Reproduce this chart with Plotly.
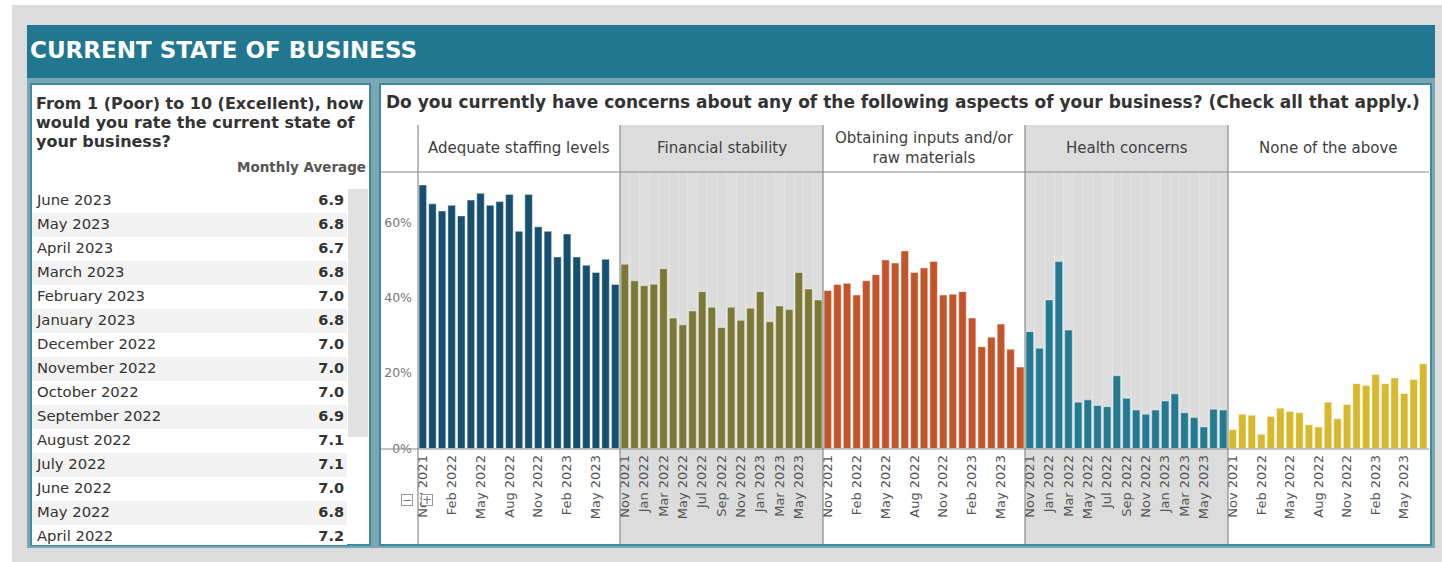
import plotly.graph_objects as go

W, H = 1442, 562

# ---------------- data ----------------
months = ["Nov 2021", "Dec 2021", "Jan 2022", "Feb 2022", "Mar 2022", "Apr 2022",
          "May 2022", "Jun 2022", "Jul 2022", "Aug 2022", "Sep 2022", "Oct 2022",
          "Nov 2022", "Dec 2022", "Jan 2023", "Feb 2023", "Mar 2023", "Apr 2023",
          "May 2023", "Jun 2023", "Jul 2023"]

staffing = [69.9, 64.9, 63.0, 64.5, 61.7, 65.9, 67.7, 64.5, 65.5, 67.4, 57.6,
            67.4, 58.8, 57.6, 50.8, 56.9, 50.8, 48.6, 46.7, 50.2, 43.5]
financial = [48.9, 44.5, 43.2, 43.6, 47.7, 34.6, 32.8, 36.5, 41.6, 37.5, 32.1,
             37.5, 34.0, 37.2, 41.6, 33.6, 37.8, 36.9, 46.7, 42.3, 39.4]
inputs = [41.9, 43.5, 43.8, 40.7, 44.5, 46.1, 50.0, 49.2, 52.4, 46.7, 47.9,
          49.6, 40.7, 40.9, 41.6, 34.6, 27.0, 29.5, 33.0, 26.3, 21.6]
health = [31.0, 26.6, 39.4, 49.6, 31.4, 12.3, 12.9, 11.4, 11.1, 19.3, 13.3,
          10.2, 9.1, 10.2, 12.6, 14.5, 9.5, 8.2, 5.7, 10.4, 10.2]
none_above = [5.0, 9.1, 8.8, 3.8, 8.5, 10.7, 9.8, 9.5, 6.3, 5.7, 12.3,
              7.9, 11.7, 17.2, 16.7, 19.6, 17.2, 18.7, 14.6, 18.3, 22.5]

concern_labels = ["Adequate staffing levels", "Financial stability",
                  "Obtaining inputs and/or<br>raw materials", "Health concerns",
                  "None of the above"]
series = [staffing, financial, inputs, health, none_above]
bar_colors = ["#174f70", "#7b7935", "#c4552a", "#237a91", "#d8b82c"]

ticks_3m = ["Nov 2021", "Feb 2022", "May 2022", "Aug 2022", "Nov 2022", "Feb 2023", "May 2023"]
ticks_2m = ["Nov 2021", "Jan 2022", "Mar 2022", "May 2022", "Jul 2022", "Sep 2022",
            "Nov 2022", "Jan 2023", "Mar 2023", "May 2023"]
panel_ticks = [ticks_3m, ticks_2m, ticks_3m, ticks_2m, ticks_3m]
y_ticks = [0, 20, 40, 60]
y_ticktext = ["0%", "20%", "40%", "60%"]

table_months = ["June 2023", "May 2023", "April 2023", "March 2023", "February 2023",
                "January 2023", "December 2022", "November 2022", "October 2022",
                "September 2022", "August 2022", "July 2022", "June 2022", "May 2022",
                "April 2022"]
table_avg = [6.9, 6.8, 6.7, 6.8, 7.0, 6.8, 7.0, 7.0, 7.0, 6.9, 7.1, 7.1, 7.0, 6.8, 7.2]

question_lines = ["From 1 (Poor) to 10 (Excellent), how",
                  "would you rate the current state of",
                  "your business?"]

# ---------------- helpers ----------------
FONT = "DejaVu Sans"


def X(px):
    return px / W


def Y(py):
    return 1 - py / H


panel_edges = [418, 620, 823, 1025, 1228, 1428]
grey_panels = (1, 3)
plot_top, plot_bottom = 172, 448.5
y_max = (plot_bottom - plot_top) / 3.77

fig = go.Figure()

for i, (vals, col) in enumerate(zip(series, bar_colors)):
    ax = "x" if i == 0 else f"x{i + 1}"
    fig.add_trace(go.Bar(
        x=months, y=vals, xaxis=ax, yaxis="y",
        marker=dict(color=col, line=dict(color="rgba(255,255,255,0.55)", width=0.8)),
        hovertemplate="%{x}: %{y:.1f}%<extra>" + concern_labels[i].replace("<br>", " ") + "</extra>",
        showlegend=False,
    ))

layout_axes = {}
for i in range(5):
    key = "xaxis" if i == 0 else f"xaxis{i + 1}"
    striped = i in grey_panels
    layout_axes[key] = dict(
        domain=[X(panel_edges[i]), X(panel_edges[i + 1])],
        anchor="y", type="category", categoryorder="array", categoryarray=months,
        range=[-0.5, len(months) - 0.5],
        tickmode="array", tickvals=months,
        ticktext=[m if m in panel_ticks[i] else "" for m in months],
        tickson="boundaries" if striped else "labels",
        tickangle=-90, ticks="", showgrid=striped, gridcolor="#e6e6e6", gridwidth=1,
        showline=False, zeroline=False, ticklabelstandoff=3,
        tickfont=dict(family=FONT, size=13, color="#555555"),
        fixedrange=True,
    )

# ---------------- left table (rows on their own axes) ----------------
table_w = 315
row_fill = ["#ffffff" if k % 2 == 0 else "#f2f2f2" for k in range(len(table_months))]
rows_visible = (545 - 189) / 24.0

fig.add_trace(go.Bar(
    y=table_months, x=[table_w] * len(table_months), orientation="h", width=1,
    xaxis="x6", yaxis="y6", marker=dict(color=row_fill, line_width=0),
    hoverinfo="skip", showlegend=False,
))
fig.add_trace(go.Scatter(
    y=table_months, x=[5] * len(table_months), xaxis="x6", yaxis="y6",
    mode="text", text=table_months, textposition="middle right",
    textfont=dict(family=FONT, size=14.8, color="#333333"),
    hoverinfo="skip", showlegend=False, cliponaxis=True,
))
fig.add_trace(go.Scatter(
    y=table_months, x=[table_w - 3] * len(table_months), xaxis="x6", yaxis="y6",
    mode="text", text=[f"<b>{v:.1f}</b>" for v in table_avg], textposition="middle left",
    textfont=dict(family=FONT, size=14.5, color="#333333"),
    hoverinfo="skip", showlegend=False, cliponaxis=True,
))

fig.update_layout(**layout_axes)
fig.update_layout(
    yaxis=dict(domain=[Y(plot_bottom), Y(plot_top)], anchor="x", range=[0, y_max],
               tickmode="array", tickvals=y_ticks, ticktext=y_ticktext, showgrid=False,
               zeroline=False, showline=False, ticks="", ticklabelstandoff=5,
               tickfont=dict(family=FONT, size=12.5, color="#777777"), fixedrange=True),
    xaxis6=dict(domain=[X(32), X(32 + table_w)], anchor="y6", range=[0, table_w],
                visible=False, fixedrange=True),
    yaxis6=dict(domain=[Y(545), Y(189)], anchor="x6", type="category",
                categoryorder="array", categoryarray=table_months,
                range=[rows_visible - 0.5, -0.5], visible=False, fixedrange=True),
)

# ---------------- decorations ----------------
shapes = []
shapes.append(dict(type="rect", xref="paper", yref="paper", x0=X(12), x1=1, y0=0, y1=Y(5),
                   fillcolor="#dcdcdc", line_width=0, layer="below"))
shapes.append(dict(type="rect", xref="paper", yref="paper", x0=X(27), x1=X(1435), y0=Y(548), y1=Y(78),
                   fillcolor="#7ba7b5", line_width=0, layer="below"))
shapes.append(dict(type="rect", xref="paper", yref="paper", x0=X(27), x1=X(1435), y0=Y(78), y1=Y(25),
                   fillcolor="#21778f", line_width=0, layer="below"))
for (a, b) in [(31, 370), (380, 1431)]:
    shapes.append(dict(type="rect", xref="paper", yref="paper", x0=X(a), x1=X(b), y0=Y(545), y1=Y(84),
                       fillcolor="white", line=dict(color="#3b8aa1", width=2), layer="below"))
for i in grey_panels:
    shapes.append(dict(type="rect", xref="paper", yref="paper", x0=X(panel_edges[i]), x1=X(panel_edges[i + 1]),
                       y0=Y(544), y1=Y(125), fillcolor="#dcdcdc", line_width=0, layer="below"))
for xe in panel_edges[:-1]:
    shapes.append(dict(type="line", xref="paper", yref="paper", x0=X(xe), x1=X(xe), y0=Y(544), y1=Y(125),
                       line=dict(color="#8c8c8c", width=1.2), layer="above"))
for yy in (172, 449):
    shapes.append(dict(type="line", xref="paper", yref="paper", x0=X(381), x1=X(1429), y0=Y(yy), y1=Y(yy),
                       line=dict(color="#8c8c8c", width=1.2), layer="above"))
shapes.append(dict(type="rect", xref="paper", yref="paper", x0=X(348), x1=X(368), y0=Y(437), y1=Y(189),
                   fillcolor="#e2e2e2", line_width=0, layer="below"))

annotations = []
annotations.append(dict(text="<b>CURRENT STATE OF BUSINESS</b>", x=X(28), y=Y(50), xref="paper", yref="paper",
                        xanchor="left", yanchor="middle", showarrow=False,
                        font=dict(family=FONT, size=23, color="white")))
for line, yy in zip(question_lines, [104, 122.5, 141]):
    annotations.append(dict(text=f"<b>{line}</b>", x=X(34), y=Y(yy), xref="paper", yref="paper",
                            xanchor="left", yanchor="middle", showarrow=False,
                            font=dict(family=FONT, size=16, color="#333333")))
annotations.append(dict(text="<b>Monthly Average</b>", x=X(368), y=Y(167), xref="paper", yref="paper",
                        xanchor="right", yanchor="middle", showarrow=False,
                        font=dict(family=FONT, size=13.5, color="#555555")))
annotations.append(dict(text="<b>Do you currently have concerns about any of the following aspects of your business? (Check all that apply.)</b>",
                        x=X(384), y=Y(102), xref="paper", yref="paper", xanchor="left", yanchor="middle",
                        showarrow=False, font=dict(family=FONT, size=17, color="#333333")))
for i, lab in enumerate(concern_labels):
    annotations.append(dict(text=lab, x=X((panel_edges[i] + panel_edges[i + 1]) / 2), y=Y(148),
                            xref="paper", yref="paper", xanchor="center", yanchor="middle",
                            showarrow=False, font=dict(family=FONT, size=15, color="#404040")))
for sym, xx in (("−", 406.5), ("+", 427.5)):
    annotations.append(dict(text=sym, x=X(xx), y=Y(500), xref="paper", yref="paper", showarrow=False,
                            width=10, height=10, borderpad=0, borderwidth=1, bordercolor="#999999",
                            bgcolor="white", xanchor="center", yanchor="middle",
                            font=dict(family=FONT, size=12, color="#777777")))

fig.update_layout(
    autosize=True, margin=dict(l=0, r=0, t=0, b=0, autoexpand=False),
    paper_bgcolor="white", plot_bgcolor="rgba(0,0,0,0)",
    bargap=0.22, shapes=shapes, annotations=annotations,
    font=dict(family=FONT),
)

fig.write_html("out.html", config={"displayModeBar": False, "responsive": True},
               default_width="100vw", default_height="100vh")
with open("out.html", encoding="utf-8") as f:
    html = f.read()
css = "<style>html,body{margin:0;padding:0;overflow:hidden;}</style>"
html = html.replace("</head>", css + "</head>", 1)
with open("out.html", "w", encoding="utf-8") as f:
    f.write(html)
